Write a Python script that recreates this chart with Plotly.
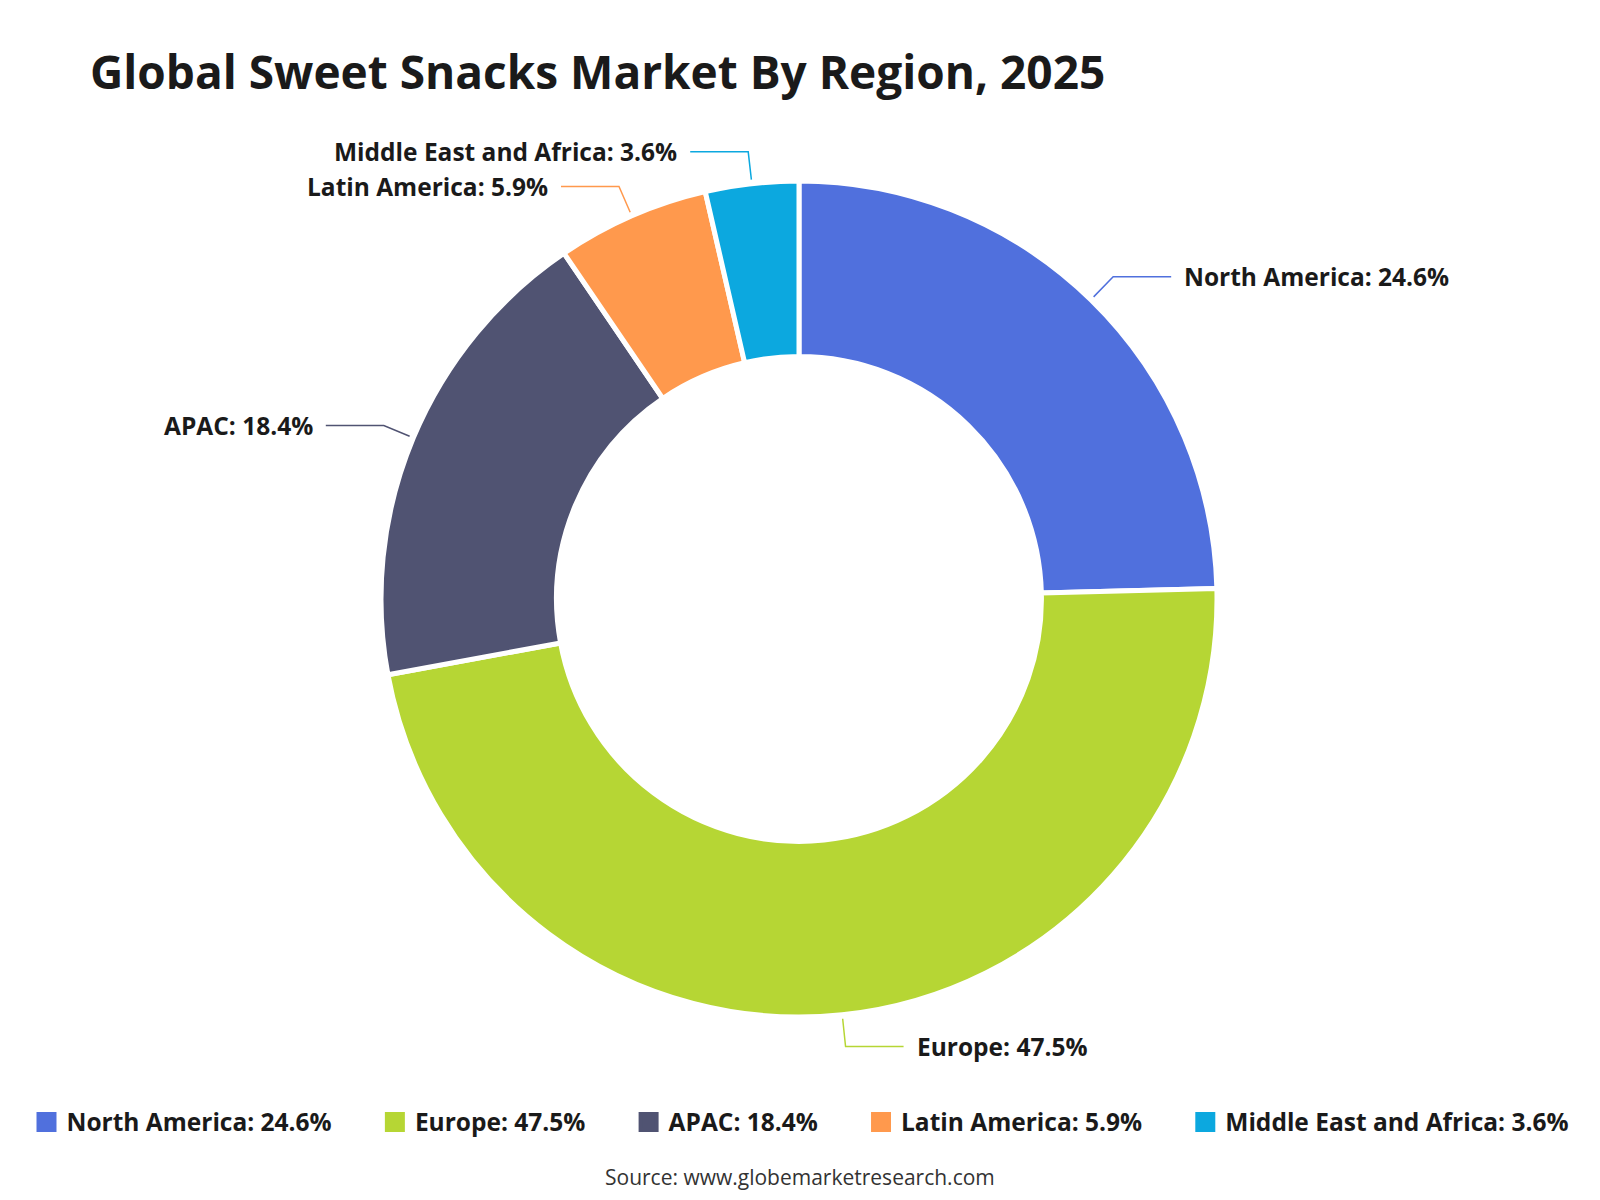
import math
import plotly.graph_objects as go

regions = ["North America", "Europe", "APAC", "Latin America", "Middle East and Africa"]
shares = [24.6, 47.5, 18.4, 5.9, 3.6]
colors = ["#5070dd", "#b6d634", "#505372", "#ff994d", "#0ca8df"]
title_text = "Global Sweet Snacks Market By Region, 2025"
source_text = "Source: www.globemarketresearch.com"

W, H = 1600, 1200
FONT = "'Open Sans', 'Noto Sans', sans-serif"
TXT = "#1a1a1a"

labels = [f"{r}: {v}%" for r, v in zip(regions, shares)]

# pie geometry (pixels)
cx, cy, R = 799, 599, 418
hole = 0.58

fig = go.Figure()
fig.add_trace(go.Pie(
    labels=labels,
    values=shares,
    sort=False,
    direction="clockwise",
    rotation=0,
    hole=hole,
    textinfo="none",
    showlegend=False,
    marker=dict(colors=colors, line=dict(color="white", width=5)),
    domain=dict(x=[(cx - R) / W, (cx + R) / W], y=[(H - cy - R) / H, (H - cy + R) / H]),
    hovertemplate="%{label}<extra></extra>",
))

# legend entries (square swatches)
NB = "\u00a0"
for i, (lab, c) in enumerate(zip(labels, colors)):
    pad = NB * 6 if i < len(labels) - 1 else ""
    fig.add_trace(go.Scatter(
        x=[None], y=[None], mode="markers", name=f"<b>{lab}</b>{pad}",
        marker=dict(symbol="square", size=16, color=c, line=dict(color=c, width=4)),
        hoverinfo="skip",
    ))


def px(x):
    return x / W


def py(y):
    return 1 - y / H


shapes = []
annotations = []
total = sum(shares)
cum = 0.0
r1, r2, len2, gap = R + 4, R + 32, 58, 11
for lab, v, c in zip(labels, shares, colors):
    mid = (cum + v / 2) / total * 2 * math.pi
    cum += v
    sx, sy = math.sin(mid), -math.cos(mid)
    x0, y0 = cx + r1 * sx, cy + r1 * sy
    x1, y1 = cx + r2 * sx, cy + r2 * sy
    right = sx >= 0
    x2 = x1 + (len2 if right else -len2)
    shapes.append(dict(
        type="path", xref="paper", yref="paper",
        path=f"M {px(x0)} {py(y0)} L {px(x1)} {py(y1)} L {px(x2)} {py(y1)}",
        line=dict(color=c, width=1.5),
    ))
    annotations.append(dict(
        x=px(x2 + (gap if right else -gap)), y=py(y1), xref="paper", yref="paper",
        text=f"<b>{lab}</b>", showarrow=False,
        xanchor="left" if right else "right", yanchor="middle",
        font=dict(family=FONT, size=24.5, color=TXT),
    ))

annotations.append(dict(
    x=px(88), y=py(71), xref="paper", yref="paper", text=f"<b>{title_text}</b>",
    showarrow=False, xanchor="left", yanchor="middle",
    font=dict(family=FONT, size=46, color=TXT),
))
annotations.append(dict(
    x=0.5, y=py(1177), xref="paper", yref="paper", text=source_text,
    showarrow=False, xanchor="center", yanchor="middle",
    font=dict(family=FONT, size=21, color="#333333"),
))

fig.update_layout(
    width=W, height=H,
    margin=dict(l=0, r=0, t=0, b=0),
    paper_bgcolor="white", plot_bgcolor="white",
    xaxis=dict(visible=False), yaxis=dict(visible=False),
    shapes=shapes, annotations=annotations,
    showlegend=True,
    legend=dict(
        orientation="h", x=0.5, xanchor="center", y=py(1122), yanchor="middle",
        font=dict(family=FONT, size=24.5, color=TXT), itemclick=False,
        itemdoubleclick=False, traceorder="normal",
    ),
    font=dict(family=FONT),
)

fig.write_html("out.html")
